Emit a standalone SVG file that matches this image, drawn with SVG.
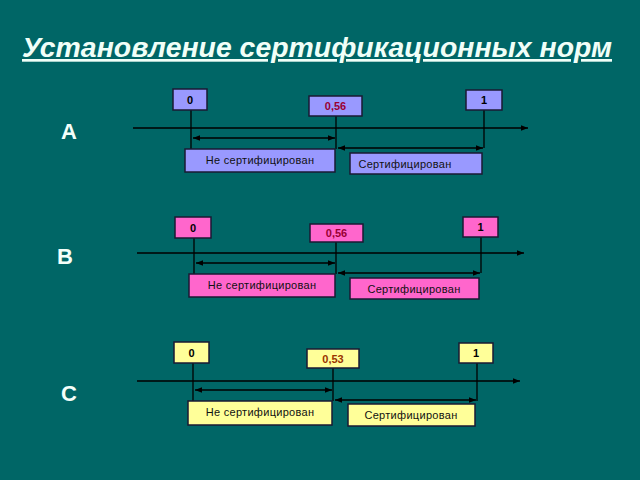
<svg xmlns="http://www.w3.org/2000/svg" width="640" height="480" viewBox="0 0 640 480">
<defs>
<marker id="ah" viewBox="0 0 10 10" refX="10" refY="5" markerWidth="7" markerHeight="7" orient="auto-start-reverse" markerUnits="userSpaceOnUse">
<path d="M0,1 L10,5 L0,9 z" fill="#000"/>
</marker>
<style>
.bg{fill:#006666}
.title{font-family:"Liberation Sans",Arial,sans-serif;font-weight:bold;font-style:italic;font-size:27px;fill:#F0FFF8;text-decoration:underline}
.sec{font-family:"Liberation Sans",Arial,sans-serif;font-weight:bold;font-size:22px;fill:#F4FFFA;text-anchor:middle}
.box{stroke:#1a1a33;stroke-width:1.5}
.a{fill:#9999FF}
.b{fill:#FF66CC}
.c{fill:#FFFF99}
.num{font-family:"Liberation Sans",Arial,sans-serif;font-weight:bold;font-size:11px;fill:#000;text-anchor:middle}
.mid{font-family:"Liberation Sans",Arial,sans-serif;font-weight:bold;font-size:11px;text-anchor:middle}
.lbl{font-family:"Liberation Sans",Arial,sans-serif;font-size:11px;fill:#111;text-anchor:middle;letter-spacing:0.3px}
.ln{stroke:#000;stroke-width:1.3;fill:none}
.ax{stroke:#000;stroke-width:1.3;fill:none;marker-end:url(#ah)}
.dbl{stroke:#000;stroke-width:1.3;fill:none;marker-start:url(#ah);marker-end:url(#ah)}
</style>
</defs>
<rect class="bg" x="0" y="0" width="640" height="480"/>
<text class="title" x="22" y="57" textLength="590" lengthAdjust="spacingAndGlyphs">Установление сертификационных норм</text>

<text class="sec" x="69" y="139">A</text>
<text class="sec" x="65" y="264">B</text>
<text class="sec" x="69" y="401">C</text>

<g id="connectors">
<!-- A -->
<line class="ax" x1="133" y1="128" x2="528" y2="128"/>
<line class="ln" x1="191" y1="110" x2="191" y2="149"/>
<line class="ln" x1="336" y1="116" x2="336" y2="149"/>
<line class="ln" x1="484" y1="110" x2="484" y2="148"/>
<line class="dbl" x1="193" y1="138" x2="335" y2="138"/>
<line class="dbl" x1="338" y1="148" x2="483" y2="148"/>
<!-- B -->
<line class="ax" x1="137" y1="253" x2="524" y2="253"/>
<line class="ln" x1="194" y1="238" x2="194" y2="274"/>
<line class="ln" x1="336" y1="242" x2="336" y2="274"/>
<line class="ln" x1="481" y1="237" x2="481" y2="273"/>
<line class="dbl" x1="196" y1="263" x2="335" y2="263"/>
<line class="dbl" x1="338" y1="273" x2="480" y2="273"/>
<!-- C -->
<line class="ax" x1="137" y1="381" x2="520" y2="381"/>
<line class="ln" x1="193" y1="363" x2="193" y2="401"/>
<line class="ln" x1="333" y1="368" x2="333" y2="401"/>
<line class="ln" x1="477" y1="363" x2="477" y2="401"/>
<line class="dbl" x1="195" y1="390" x2="332" y2="390"/>
<line class="dbl" x1="335" y1="400" x2="476" y2="400"/>
</g>

<g id="A-0"><rect class="box a" x="173" y="89" width="34" height="21"/><text class="num" x="190" y="104">0</text></g>
<g id="A-056"><rect class="box a" x="309" y="96" width="53" height="20"/><text class="mid" x="335.5" y="110" fill="#990033">0,56</text></g>
<g id="A-1"><rect class="box a" x="466" y="90" width="36" height="20"/><text class="num" x="484" y="104">1</text></g>
<g id="A-not"><rect class="box a" x="185" y="149" width="150" height="23"/><text class="lbl" x="260" y="164">Не сертифицирован</text></g>
<g id="A-cert"><rect class="box a" x="350" y="153" width="132" height="21"/><text class="lbl" x="405" y="168">Сертифицирован</text></g>

<g id="B-0"><rect class="box b" x="175" y="217" width="36" height="21"/><text class="num" x="193" y="232">0</text></g>
<g id="B-056"><rect class="box b" x="310" y="224" width="53" height="18"/><text class="mid" x="336.5" y="237" fill="#990033">0,56</text></g>
<g id="B-1"><rect class="box b" x="463" y="217" width="35" height="20"/><text class="num" x="480.5" y="231">1</text></g>
<g id="B-not"><rect class="box b" x="189" y="274" width="146" height="23"/><text class="lbl" x="262" y="289">Не сертифицирован</text></g>
<g id="B-cert"><rect class="box b" x="350" y="278" width="129" height="21"/><text class="lbl" x="414" y="293">Сертифицирован</text></g>

<g id="C-0"><rect class="box c" x="174" y="342" width="35" height="21"/><text class="num" x="191.5" y="357">0</text></g>
<g id="C-053"><rect class="box c" x="307" y="349" width="52" height="19"/><text class="mid" x="333" y="363" fill="#993300">0,53</text></g>
<g id="C-1"><rect class="box c" x="459" y="343" width="34" height="20"/><text class="num" x="476" y="357">1</text></g>
<g id="C-not"><rect class="box c" x="188" y="401" width="144" height="24"/><text class="lbl" x="260" y="416">Не сертифицирован</text></g>
<g id="C-cert"><rect class="box c" x="348" y="404" width="127" height="22"/><text class="lbl" x="411" y="419">Сертифицирован</text></g>
</svg>
